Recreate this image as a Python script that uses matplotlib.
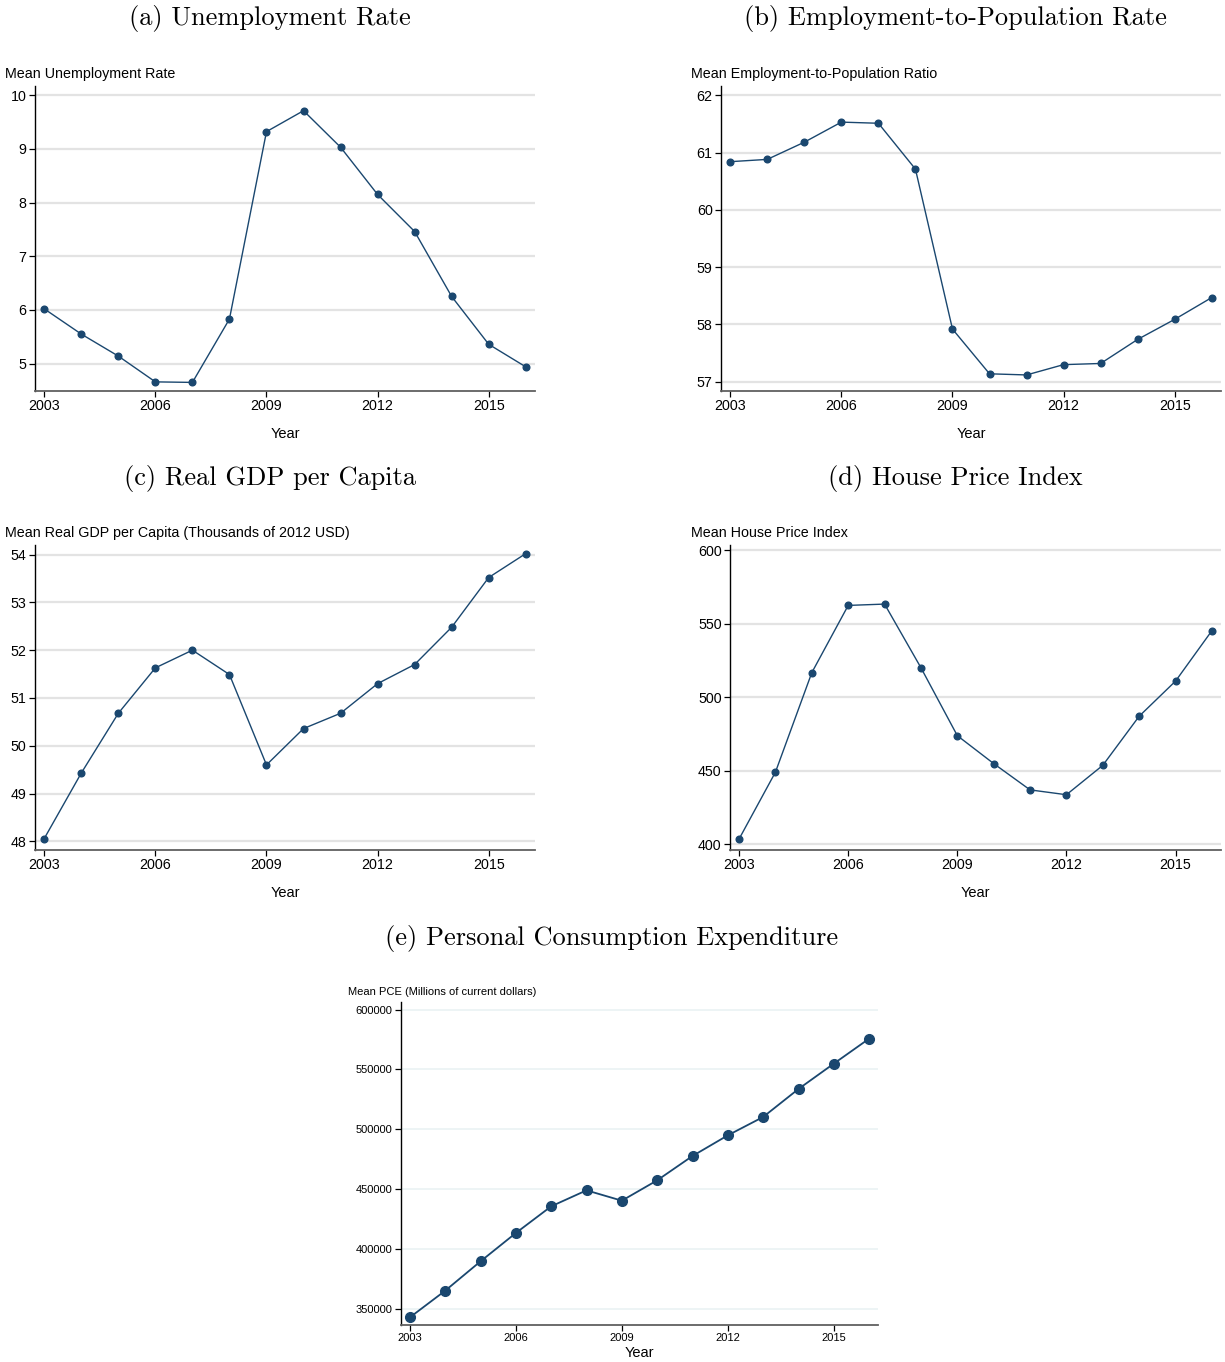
import numpy as np
import matplotlib.pyplot as plt

# datos
years = list(range(2003, 2017))
unemp = [6.02, 5.55, 5.14, 4.66, 4.65, 5.83, 9.32, 9.71, 9.03, 8.15, 7.46, 6.25, 5.36, 4.94]
emp_pop = [60.84, 60.88, 61.18, 61.53, 61.51, 60.71, 57.92, 57.14, 57.12, 57.30, 57.32, 57.74, 58.09, 58.47]
gdp_pc = [48.06, 49.43, 50.68, 51.63, 52.00, 51.49, 49.60, 50.36, 50.68, 51.30, 51.70, 52.48, 53.52, 54.02]
hpi = [403.5, 449.0, 516.7, 562.4, 563.3, 520.0, 473.8, 454.8, 436.9, 433.6, 453.6, 487.0, 510.9, 545.2]
pce = [342750, 365050, 389580, 413270, 435570, 448950, 440300, 457300, 477650, 494930, 510260, 533670, 554850, 575750]
xticks = [2003, 2006, 2009, 2012, 2015]

W, H = 1225, 1362
fig = plt.figure(figsize=(W / 100, H / 100), dpi=100)
plt.rcParams['font.family'] = ['Liberation Sans', 'DejaVu Sans']

navy = '#1a476f'


def panel(box, y, ylim, yticks, ylabel, ylabel_xy, title, title_xy, small=False):
    l, t, r, b = box
    ax = fig.add_axes([l / W, 1 - b / H, (r - l) / W, (b - t) / H])
    fs = 8 if small else 10.3
    ax.plot(years, y, color=navy, lw=1.3 if small else 1.0, marker='o',
            ms=7 if small else 4.8, zorder=3)
    ax.set_xlim(2002.75, 2016.25)
    ax.set_ylim(*ylim)
    ax.set_xticks(xticks)
    ax.set_yticks(yticks)
    ax.tick_params(labelsize=fs, length=4, width=0.9, pad=2, color='black')
    ax.grid(axis='y', color='#eaf2f3' if small else '#e3e3e3', lw=1.2 if small else 1.6)
    ax.set_axisbelow(True)
    for s in ['top', 'right']:
        ax.spines[s].set_visible(False)
    ax.spines['left'].set_color('black')
    ax.spines['left'].set_linewidth(1.0)
    ax.spines['bottom'].set_color('#606060')
    ax.spines['bottom'].set_linewidth(1.3)
    ax.set_xlabel('Year', fontsize=10.5, labelpad=2 if small else 10)
    fig.text(ylabel_xy[0] / W, 1 - ylabel_xy[1] / H, ylabel, fontsize=fs,
             ha='left', va='center')
    fig.text(title_xy[0] / W, 1 - title_xy[1] / H, title, fontsize=19,
             family='cmr10', ha='center', va='center')
    return ax


panel((35, 86, 535, 391), unemp, (4.49, 10.17), [5, 6, 7, 8, 9, 10],
      'Mean Unemployment Rate', (5, 74), '(a) Unemployment Rate', (270, 19))
panel((721, 86, 1221, 391), emp_pop, (56.84, 62.16), [57, 58, 59, 60, 61, 62],
      'Mean Employment-to-Population Ratio', (691, 74),
      '(b) Employment-to-Population Rate', (955, 19))
panel((35, 545, 535, 850), gdp_pc, (47.82, 54.2), [48, 49, 50, 51, 52, 53, 54],
      'Mean Real GDP per Capita (Thousands of 2012 USD)', (5, 533),
      '(c) Real GDP per Capita', (270, 479))
panel((730, 545, 1221, 850), hpi, (396, 603.5), [400, 450, 500, 550, 600],
      'Mean House Price Index', (691, 533), '(d) House Price Index', (955, 479))
panel((401, 1002, 878, 1325), pce, (336400, 606350),
      [350000, 400000, 450000, 500000, 550000, 600000],
      'Mean PCE (Millions of current dollars)', (348, 992),
      '(e) Personal Consumption Expenditure', (612, 938), small=True)

fig.savefig('out.png', dpi=100, facecolor='white')
